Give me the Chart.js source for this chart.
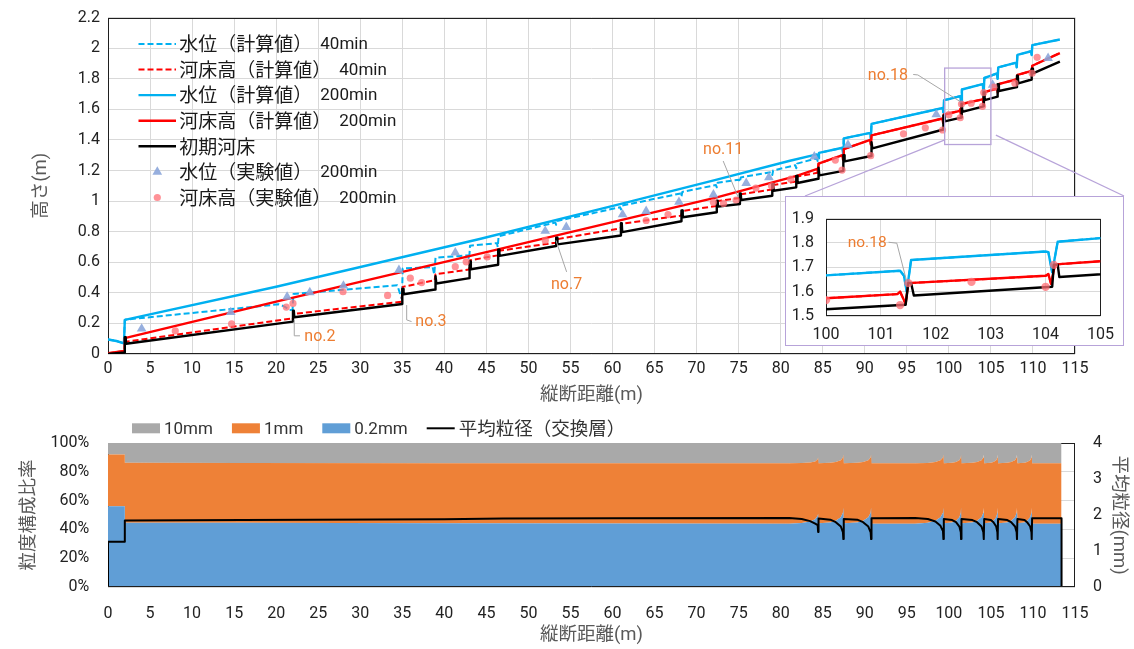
<!DOCTYPE html>
<html lang="ja">
<head>
<meta charset="utf-8">
<title>縦断距離と河床高・粒度構成</title>
<script src="https://cdn.jsdelivr.net/npm/chart.js@4.4.1/dist/chart.umd.min.js"></script>
<style>
  html, body { margin:0; padding:0; background:#fff; }
  #page { position:relative; width:1134px; height:649px; overflow:hidden; }
  canvas { position:absolute; display:block; }
  #profile { left:0; top:0; }
  #grain { left:0; top:410px; }
  #zoomFrame { position:absolute; left:785px; top:196px; width:339px; height:150px; box-sizing:border-box; border:1px solid #b7a3d9; background:#fff; }
  #zoomFrame canvas { left:0; top:0; }
</style>
</head>
<body>
<div id="page">
  <canvas id="profile" width="1134" height="410"></canvas>
  <canvas id="grain" width="1134" height="239"></canvas>
  <div id="zoomFrame"><canvas id="zoom" width="337" height="148"></canvas></div>
</div>
<script>
// ---------------- 縦断形状 [縦断距離(m), 高さ(m)] ----------------
const wl40 = [[0,0.095],[1.0,0.085],[1.9,0.07],[2.0,0.223],[2.1,0.225],[20.3,0.325],[21.0,0.31],[21.6,0.288],[21.95,0.29],[22.05,0.392],
  [34.4,0.45],[34.7,0.40],[34.95,0.36],[35.05,0.559],[38.6,0.569],[38.8,0.52],[38.95,0.63],[42.8,0.645],[42.95,0.62],[43.05,0.708],
  [46.25,0.725],[46.35,0.70],[46.45,0.77],[53.2,0.86],[53.3,0.845],[53.4,0.87],[60.9,0.96],[61.0,0.945],[61.1,0.97],[68.1,1.05],[68.2,1.03],[68.3,1.06],
  [72.3,1.105],[72.4,1.09],[72.5,1.12],[75.05,1.14],[75.15,1.125],[75.25,1.155],[78.9,1.19],[79.0,1.17],[79.1,1.2],[81.75,1.235],[81.85,1.215],[81.95,1.245],
  [84.3,1.28],[84.4,1.26],[84.47,1.28],[84.55,1.315],[87.35,1.349],[87.42,1.31],[87.5,1.41],[90.65,1.446],[90.72,1.41],[90.8,1.505],
  [99.28,1.609],[99.34,1.58],[99.42,1.66],[100.0,1.667],[101.35,1.686],[101.42,1.665],[101.47,1.60],[101.55,1.73],[104.0,1.765],[104.05,1.762],[104.12,1.68],[104.22,1.805],
  [105.0,1.82],[105.72,1.835],[105.8,1.80],[105.87,1.875],[108.0,1.905],[108.07,1.875],[108.15,1.956],[109.78,1.98],[109.85,1.955],[109.92,2.02],[113.2,2.057]];

const bed40 = [[0,0.005],[1.95,0.02],[2.0,0.09],[2.1,0.08],[21.85,0.232],[21.95,0.225],[22.1,0.262],[34.9,0.342],[35.05,0.439],[38.85,0.483],[38.95,0.522],
  [42.95,0.552],[43.05,0.613],[46.35,0.645],[46.5,0.675],[53.25,0.728],[53.35,0.75],[60.95,0.822],[61.1,0.852],[68.15,0.905],[68.3,0.935],
  [72.35,0.968],[72.5,1.0],[75.1,1.02],[75.25,1.045],[78.95,1.075],[79.1,1.105],[81.8,1.128],[81.95,1.16],[84.35,1.185],[84.42,1.19],[84.5,1.245],
  [87.35,1.30],[87.42,1.27],[87.5,1.34],[90.65,1.40],[90.72,1.37],[90.8,1.43],[99.25,1.54],[99.32,1.51],[99.4,1.566],[100.0,1.573],
  [101.3,1.59],[101.35,1.60],[101.45,1.55],[101.5,1.635],[104.0,1.665],[104.05,1.672],[104.1,1.632],[104.17,1.71],[104.25,1.713],[105.0,1.725],
  [105.72,1.735],[105.77,1.74],[105.82,1.71],[105.88,1.765],[108.0,1.795],[108.05,1.80],[108.1,1.775],[108.17,1.825],
  [109.75,1.85],[109.8,1.855],[109.85,1.83],[109.92,1.885],[113.2,1.968]];

const wl200 = [[0,0.095],[1.0,0.085],[1.9,0.07],[2.0,0.223],[20.0,0.44],[44.2,0.752],[61.0,0.982],[72.4,1.14],[81.1,1.264],[84.3,1.305],
  [84.4,1.298],[84.47,1.28],[84.55,1.315],[87.35,1.349],[87.42,1.31],[87.5,1.41],[90.65,1.446],[90.72,1.41],[90.8,1.505],
  [99.28,1.609],[99.34,1.58],[99.42,1.66],[100.0,1.667],[101.35,1.686],[101.42,1.665],[101.47,1.60],[101.55,1.73],[104.0,1.765],[104.05,1.762],[104.12,1.68],[104.22,1.805],
  [105.0,1.82],[105.72,1.835],[105.8,1.80],[105.87,1.875],[108.0,1.905],[108.07,1.875],[108.15,1.956],[109.78,1.98],[109.85,1.955],[109.92,2.02],[113.2,2.057]];

const bed200 = [[0,0.005],[1.95,0.02],[2.0,0.104],[20.0,0.342],[46.5,0.686],[61.0,0.876],[72.4,1.024],[81.9,1.165],[84.35,1.21],[84.42,1.19],[84.5,1.245],
  [87.35,1.30],[87.42,1.27],[87.5,1.34],[90.65,1.40],[90.72,1.37],[90.8,1.43],[99.25,1.54],[99.32,1.51],[99.4,1.566],[100.0,1.573],
  [101.3,1.59],[101.35,1.60],[101.45,1.55],[101.5,1.635],[104.0,1.665],[104.05,1.672],[104.1,1.632],[104.17,1.71],[104.25,1.713],[105.0,1.725],
  [105.72,1.735],[105.77,1.74],[105.82,1.71],[105.88,1.765],[108.0,1.795],[108.05,1.80],[108.1,1.775],[108.17,1.825],
  [109.75,1.85],[109.8,1.855],[109.85,1.83],[109.92,1.885],[113.2,1.968]];

const bedInit = [[0,0],[2.0,0.01],[2.0,0.11],[2.1,0.11],[2.15,0.067],
  [22.0,0.212],[22.0,0.283],[22.1,0.283],[22.15,0.24],
  [35.0,0.327],[35.0,0.425],[35.1,0.425],[35.15,0.391],
  [38.9,0.422],[38.9,0.509],[39.0,0.509],[39.05,0.461],
  [43.0,0.496],[43.0,0.605],[43.1,0.605],[43.15,0.554],
  [46.4,0.584],[46.4,0.682],[46.5,0.682],[46.55,0.642],
  [53.3,0.706],[53.3,0.760],[53.4,0.760],[53.45,0.717],
  [61.0,0.775],[61.0,0.855],[61.1,0.855],[61.15,0.797],
  [68.2,0.868],[68.2,0.938],[68.3,0.938],[68.35,0.894],
  [72.4,0.927],[72.4,1.003],[72.5,1.003],[72.55,0.964],
  [75.15,0.981],[75.15,1.05],[75.25,1.05],[75.3,1.007],
  [79.0,1.035],[79.0,1.111],[79.1,1.111],[79.15,1.068],
  [81.85,1.090],[81.85,1.165],[81.95,1.165],[82.0,1.118],
  [84.45,1.146],[84.45,1.219],[84.55,1.219],[84.6,1.168],
  [87.45,1.198],[87.45,1.30],[87.55,1.30],[87.6,1.26],
  [90.75,1.295],[90.75,1.385],[90.85,1.385],[90.9,1.345],
  [99.35,1.468],[99.35,1.56],[99.45,1.56],[99.5,1.521],
  [101.45,1.546],[101.5,1.636],[101.55,1.636],[101.6,1.584],
  [104.12,1.62],[104.15,1.711],[104.22,1.711],[104.25,1.66],
  [105.8,1.683],[105.8,1.765],[105.9,1.765],[105.95,1.72],
  [108.1,1.745],[108.1,1.82],[108.2,1.82],[108.25,1.77],
  [109.85,1.795],[109.85,1.865],[109.95,1.865],[110.0,1.835],
  [113.2,1.912]];

const wlObs = [[4.0,0.165],[14.6,0.273],[21.3,0.373],[24.0,0.403],[28.0,0.446],[34.6,0.548],[41.3,0.663],[52.0,0.804],[54.5,0.83],
  [61.2,0.912],[64.0,0.934],[67.9,0.994],[72.0,1.042],[75.9,1.117],[78.6,1.155],[84.0,1.291],[88.0,1.367],[98.5,1.566],[105.2,1.76],[111.8,1.935]];

const bedObs = [[8.0,0.151],[14.7,0.197],[21.2,0.307],[22.0,0.331],[27.95,0.407],[33.25,0.383],[35.95,0.496],[37.3,0.467],[41.3,0.571],
  [42.6,0.603],[45.1,0.635],[52.0,0.743],[64.0,0.873],[66.6,0.912],[72.0,0.992],[73.2,0.985],[74.7,1.007],[77.05,1.085],[78.9,1.10],
  [81.2,1.143],[86.5,1.268],[87.3,1.203],[90.7,1.297],[94.6,1.44],[97.2,1.479],[99.25,1.465],[100.0,1.565],[101.35,1.545],[101.5,1.635],
  [102.65,1.64],[104.0,1.62],[104.15,1.71],[105.35,1.745],[107.85,1.771],[109.9,1.836],[110.5,1.94]];

// ---------------- 交換層の粒度構成 (%) ----------------
const gsX    = [0,2.0,2.0,16,40,60,81.0,82.5,83.5,84.1,84.4,84.45,84.5,85.9,86.55,87.15,87.4,87.45,87.5,89.1,89.8,90.42,90.7,90.75,90.8,
  96.0,97.5,98.4,99.0,99.3,99.35,99.4,100.4,100.85,101.25,101.42,101.45,101.5,102.8,103.35,103.88,104.1,104.15,104.2,105.0,105.3,105.63,105.77,105.8,
  105.85,106.95,107.4,107.87,108.06,108.1,108.15,109.0,109.3,109.67,109.82,109.85,109.9,113.4];
const frac02 = [56,56,44.7,44.6,44.3,44.1,44.0,44.5,45.5,47.0,49.5,51.0,44.3,44.8,46.0,48.5,51.5,55,44.3,44.8,46.0,48.5,51.5,55,44.0,
  44.0,44.6,46.0,48.5,51.5,55,44.3,44.8,46.0,48.5,51.5,55,44.3,44.8,46.0,48.5,51.5,55,44.3,44.8,46.0,48.5,51.5,55,
  44.3,44.8,46.0,48.5,51.5,55,44.3,44.8,46.0,48.5,51.5,55,44.0,44.0];
const frac1  = [36,36,41.5,41.5,41.7,41.8,41.9,41.6,41.0,40.2,39.3,39.0,41.7,41.4,40.8,39.5,38.5,37,41.7,41.4,40.8,39.5,38.5,37,41.9,
  41.9,41.5,40.8,39.5,38.5,37,41.7,41.4,40.8,39.5,38.5,37,41.7,41.4,40.8,39.5,38.5,37,41.7,41.4,40.8,39.5,38.5,37,
  41.7,41.4,40.8,39.5,38.5,37,41.7,41.4,40.8,39.5,38.5,37,41.9,41.9];
const frac10 = [8,8,13.8,13.9,14.0,14.1,14.1,13.9,13.5,12.8,11.2,10.0,14.0,13.8,13.2,12.0,10.0,8,14.0,13.8,13.2,12.0,10.0,8,14.1,
  14.1,13.9,13.2,12.0,10.0,8,14.0,13.8,13.2,12.0,10.0,8,14.0,13.8,13.2,12.0,10.0,8,14.0,13.8,13.2,12.0,10.0,8,
  14.0,13.8,13.2,12.0,10.0,8,14.0,13.8,13.2,12.0,10.0,8,14.1,14.1];

// 平均粒径 [縦断距離(m), mm]
const meanDia = [[0,0],[0,1.26],[2.0,1.26],[2.0,1.85],[16,1.86],[24,1.87],[40,1.88],[47,1.9],[60,1.91],[81.0,1.92],[82.5,1.89],[83.5,1.83],
  [84.1,1.76],[84.4,1.72],[84.45,1.53],[84.5,1.90],[85.9,1.87],[86.55,1.80],[87.15,1.68],[87.4,1.52],[87.45,1.33],[87.5,1.89],
  [89.1,1.87],[89.8,1.80],[90.42,1.68],[90.7,1.52],[90.75,1.33],[90.8,1.91],[96.0,1.915],[97.5,1.89],[98.4,1.82],[99.0,1.70],[99.3,1.55],[99.35,1.33],
  [99.4,1.89],[100.4,1.86],[100.85,1.80],[101.25,1.68],[101.42,1.52],[101.45,1.33],[101.5,1.89],[102.8,1.86],[103.35,1.80],[103.88,1.68],[104.1,1.52],[104.15,1.33],
  [104.2,1.89],[105.0,1.86],[105.3,1.80],[105.63,1.68],[105.77,1.52],[105.8,1.33],[105.85,1.89],[106.95,1.86],[107.4,1.80],[107.87,1.68],[108.06,1.52],[108.1,1.33],
  [108.15,1.89],[109.0,1.86],[109.3,1.80],[109.67,1.68],[109.82,1.52],[109.85,1.33],[109.9,1.91],[113.4,1.91],[113.4,0]];

// 注記（文字位置と引出線、データ座標）
const profileNotes = [
  {text:'no.2',  at:[25.2,0.114],  path:[[22.15,0.223],[22.15,0.119],[22.83,0.119]]},
  {text:'no.3',  at:[38.4,0.212],  path:[[35.52,0.32],[35.52,0.223],[36.1,0.212]]},
  {text:'no.7',  at:[54.54,0.45],  path:[[53.27,0.743],[54.54,0.537]]},
  {text:'no.11', at:[73.16,1.334], path:[[74.95,1.024],[73.16,1.262]]},
  {text:'no.18', at:[92.75,1.815], path:[[101.31,1.652],[96.31,1.825],[95.76,1.828]]}
];
const zoomNotes = [
  {text:'no.18', at:[100.75,1.799], path:[[101.47,1.642],[101.29,1.799],[101.14,1.803]]}
];
// 拡大範囲の枠と引出線の起点
const zoomBox = {x0:99.5, x1:105.0, y0:1.37, y1:1.87};
const zoomLinkFrom = [[99.52,1.40],[105.59,1.431]];

// ---------------- 描画 ----------------
const JP  = "'Noto Sans CJK JP'";
const MIX = "Roboto, 'Noto Sans CJK JP'";
Chart.defaults.font.family = 'Roboto';
Chart.defaults.color = '#222';

const OBS_WL  = 'rgba(140,166,218,0.9)';
const OBS_BED = 'rgba(255,110,116,0.75)';
const C02 = '#609ed6', C1 = '#ee8137', C10 = '#a9a9a9';

function lineSet(label, data, color, w, dash) {
  return { label, data, borderColor: color, backgroundColor: color, borderWidth: w, borderDash: dash || [],
           pointRadius: 0, tension: 0, fill: false, borderJoinStyle: 'round', borderCapStyle: 'butt' };
}
function profileDatasets(k) {
  return [
    { label:'河床高（実験値） 200min', data: bedObs, showLine:false, pointStyle:'circle', pointRadius:3.6*k,
      pointBackgroundColor: OBS_BED, pointBorderWidth:0, borderColor: OBS_BED, backgroundColor: OBS_BED },
    { label:'水位（実験値） 200min', data: wlObs, showLine:false, pointStyle:'triangle', pointRadius:5.6*k,
      pointBackgroundColor: OBS_WL, pointBorderWidth:0, borderColor: OBS_WL, backgroundColor: OBS_WL },
    lineSet('初期河床', bedInit, '#000000', 2.4),
    lineSet('河床高（計算値） 200min', bed200, '#ff0000', 2.4),
    lineSet('水位（計算値） 200min', wl200, '#00b0f0', 2.4),
    lineSet('河床高（計算値） 40min', bed40, '#ff0000', 2.0, [6,3]),
    lineSet('水位（計算値） 40min', wl40, '#00b0f0', 2.0, [6,3])
  ];
}

function drawMarker(ctx, ds, x, y) {
  ctx.fillStyle = ds.pointBackgroundColor;
  ctx.beginPath();
  if (ds.pointStyle === 'triangle') {
    const r = ds.pointRadius;
    for (let i = 0; i < 3; i++) {
      const a = i * 2 * Math.PI / 3;
      const px = x + Math.sin(a) * r, py = y - Math.cos(a) * r;
      i ? ctx.lineTo(px, py) : ctx.moveTo(px, py);
    }
    ctx.closePath();
  } else {
    ctx.arc(x, y, ds.pointRadius, 0, Math.PI * 2);
  }
  ctx.fill();
}

const plotFrame = (color) => ({
  id: 'plotFrame',
  beforeDatasetsDraw(chart) {
    const {ctx, chartArea: a} = chart;
    ctx.save();
    ctx.strokeStyle = color; ctx.lineWidth = 1;
    ctx.strokeRect(Math.round(a.left) + 0.5, Math.round(a.top) + 0.5, Math.round(a.width) - 1, Math.round(a.height) - 1);
    ctx.restore();
  }
});

const notesPlugin = (list, size) => ({
  id: 'notes',
  afterDatasetsDraw(chart) {
    const {ctx, scales: {x, y}} = chart;
    ctx.save();
    list.forEach(n => {
      ctx.strokeStyle = '#a6a6a6'; ctx.lineWidth = 1;
      ctx.beginPath();
      n.path.forEach((p, i) => {
        const px = x.getPixelForValue(p[0]), py = y.getPixelForValue(p[1]);
        i ? ctx.lineTo(px, py) : ctx.moveTo(px, py);
      });
      ctx.stroke();
      ctx.fillStyle = '#ed7d31';
      ctx.font = size + 'px Roboto';
      ctx.textAlign = 'center'; ctx.textBaseline = 'middle';
      ctx.fillText(n.text, x.getPixelForValue(n.at[0]), y.getPixelForValue(n.at[1]));
    });
    ctx.restore();
  }
});

const zoomLinks = {
  id: 'zoomLinks',
  afterDatasetsDraw(chart) {
    const {ctx, scales: {x, y}} = chart;
    const f = document.getElementById('zoomFrame');
    const fl = f.offsetLeft, ft = f.offsetTop, fw = f.offsetWidth;
    ctx.save();
    ctx.strokeStyle = '#b7a3d9'; ctx.lineWidth = 1.3;
    const l = x.getPixelForValue(zoomBox.x0), r = x.getPixelForValue(zoomBox.x1);
    const t = y.getPixelForValue(zoomBox.y1), b = y.getPixelForValue(zoomBox.y0);
    ctx.strokeRect(l, t, r - l, b - t);
    const ends = [[fl + 20, ft], [fl + fw, ft]];
    zoomLinkFrom.forEach((p, i) => {
      ctx.beginPath();
      ctx.moveTo(x.getPixelForValue(p[0]), y.getPixelForValue(p[1]));
      ctx.lineTo(ends[i][0], ends[i][1]);
      ctx.stroke();
    });
    ctx.restore();
  }
};

const profileLegend = {
  id: 'profileLegend',
  afterDatasetsDraw(chart) {
    const {ctx, chartArea: a} = chart;
    const rows = chart.data.datasets.slice().reverse();
    ctx.save();
    rows.forEach((ds, i) => {
      const y = a.top + 26.3 + i * 25.6;
      const x0 = a.left + 30.5, x1 = a.left + 68, xm = a.left + 49.3;
      if (ds.showLine === false) {
        drawMarker(ctx, ds, xm, y);
      } else {
        ctx.strokeStyle = ds.borderColor; ctx.lineWidth = ds.borderWidth;
        ctx.setLineDash(ds.borderDash); ctx.beginPath();
        ctx.moveTo(x0, y); ctx.lineTo(x1, y); ctx.stroke();
        ctx.setLineDash([]);
      }
      const parts = ds.label.split(' ');
      const tx = a.left + 71.3;
      ctx.fillStyle = '#1a1a1a'; ctx.textAlign = 'left'; ctx.textBaseline = 'middle';
      ctx.font = '19px ' + JP;
      ctx.fillText(parts[0], tx, y);
      if (parts[1]) {
        const w = ctx.measureText(parts[0]).width;
        ctx.font = '17px Roboto';
        ctx.fillText(parts[1], tx + w + 8, y + 1);
      }
    });
    ctx.restore();
  }
};

// 縦断図
new Chart(document.getElementById('profile'), {
  type: 'line',
  data: { datasets: profileDatasets(1) },
  options: {
    responsive: false, animation: false, events: [],
    layout: { padding: { top: 16, right: 59, bottom: 0, left: 0 } },
    plugins: { legend: { display: false }, tooltip: { enabled: false } },
    scales: {
      x: { type: 'linear', min: 0, max: 115,
           ticks: { stepSize: 5, padding: 5, autoSkip: false, maxRotation: 0, font: { size: 16 } },
           grid: { color: '#d9d9d9', drawTicks: false }, border: { display: false },
           title: { display: true, text: '縦断距離(m)', color: '#595959', font: { family: MIX, size: 18.5 }, padding: { top: 0, bottom: 3.9 } },
           afterFit: s => { s.height = 56; } },
      y: { type: 'linear', min: 0, max: 2.2,
           ticks: { stepSize: 0.2, padding: 8, font: { size: 16 }, format: { minimumFractionDigits: 0, maximumFractionDigits: 1 } },
           grid: { color: '#d9d9d9', drawTicks: false }, border: { display: false },
           title: { display: true, text: '高さ(m)', color: '#595959', font: { family: MIX, size: 18.5 }, padding: { top: 30, bottom: 0 } },
           afterFit: s => { s.width = 108; } }
    }
  },
  plugins: [plotFrame('#1f1f1f'), zoomLinks, notesPlugin(profileNotes, 16), profileLegend]
});

// 拡大図 (100〜105 m)
new Chart(document.getElementById('zoom'), {
  type: 'line',
  data: { datasets: profileDatasets(1.15) },
  options: {
    responsive: false, animation: false, events: [],
    layout: { padding: { top: 8, right: 16, bottom: 0, left: 0 } },
    plugins: { legend: { display: false }, tooltip: { enabled: false } },
    scales: {
      x: { type: 'linear', min: 100, max: 105,
           ticks: { stepSize: 1, padding: 9, autoSkip: false, maxRotation: 0, font: { size: 16 } },
           grid: { color: '#d9d9d9', drawTicks: false }, border: { display: false },
           afterFit: s => { s.height = 29; } },
      y: { type: 'linear', min: 1.5, max: 1.9,
           ticks: { stepSize: 0.1, padding: 12, font: { size: 16 }, format: { minimumFractionDigits: 1, maximumFractionDigits: 1 } },
           grid: { color: '#d9d9d9', drawTicks: false }, border: { display: false },
           afterFit: s => { s.width = 40; } }
    }
  },
  plugins: [plotFrame('#1f1f1f'), notesPlugin(zoomNotes, 15.5)]
});

// 粒度構成（累積）
const top02 = gsX.map((x, i) => [x, frac02[i]]);
const top1  = gsX.map((x, i) => [x, frac02[i] + frac1[i]]);
const top10 = gsX.map((x, i) => [x, frac02[i] + frac1[i] + frac10[i]]);

const grainLegend = {
  id: 'grainLegend',
  afterDraw(chart) {
    const {ctx} = chart;
    const ds = chart.data.datasets;
    const items = [ds[2], ds[1], ds[0], ds[3]];
    const y = 18.3;
    let x = 132;
    ctx.save();
    ctx.textAlign = 'left'; ctx.textBaseline = 'middle';
    items.forEach(it => {
      if (it.fill) {
        ctx.fillStyle = it.backgroundColor; ctx.fillRect(x, y - 5, 28, 10);
      } else {
        ctx.strokeStyle = it.borderColor; ctx.lineWidth = 2;
        ctx.beginPath(); ctx.moveTo(x, y); ctx.lineTo(x + 28, y); ctx.stroke();
      }
      x += 32;
      const jp = /[^\x00-\x7f]/.test(it.label);
      ctx.font = jp ? '18.5px ' + JP : '17px Roboto';
      ctx.fillStyle = '#333';
      ctx.fillText(it.label, x, jp ? y : y + 1);
      x += ctx.measureText(it.label).width + 19;
    });
    ctx.restore();
  }
};
const grainAxisLine = {
  id: 'grainAxisLine',
  afterDatasetsDraw(chart) {
    const {ctx, chartArea: a} = chart;
    ctx.save();
    ctx.strokeStyle = '#1f1f1f'; ctx.lineWidth = 1;
    ctx.beginPath();
    ctx.moveTo(a.left, Math.round(a.bottom) - 0.5); ctx.lineTo(a.right, Math.round(a.bottom) - 0.5);
    ctx.moveTo(Math.round(a.right) - 0.5, a.top); ctx.lineTo(Math.round(a.right) - 0.5, a.bottom);
    ctx.stroke();
    ctx.restore();
  }
};

new Chart(document.getElementById('grain'), {
  type: 'line',
  data: { datasets: [
    { label: '0.2mm', data: top02, fill: 'origin', backgroundColor: C02, borderColor: 'rgba(0,0,0,0)', borderWidth: 0, pointRadius: 0, tension: 0, yAxisID: 'y' },
    { label: '1mm',   data: top1,  fill: '-1',     backgroundColor: C1,  borderColor: 'rgba(0,0,0,0)', borderWidth: 0, pointRadius: 0, tension: 0, yAxisID: 'y' },
    { label: '10mm',  data: top10, fill: '-1',     backgroundColor: C10, borderColor: 'rgba(0,0,0,0)', borderWidth: 0, pointRadius: 0, tension: 0, yAxisID: 'y' },
    { label: '平均粒径（交換層）', data: meanDia, fill: false, borderColor: '#000', backgroundColor: '#000', borderWidth: 2,
      pointRadius: 0, tension: 0, yAxisID: 'y2', order: -1, borderJoinStyle: 'round' }
  ] },
  options: {
    responsive: false, animation: false, events: [],
    layout: { padding: { top: 33, right: 0, bottom: 0, left: 0 } },
    plugins: { legend: { display: false }, tooltip: { enabled: false } },
    scales: {
      x: { type: 'linear', min: 0, max: 115,
           ticks: { stepSize: 5, padding: 17.7, autoSkip: false, maxRotation: 0, font: { size: 16 } },
           grid: { display: false, drawTicks: false }, border: { display: false },
           title: { display: true, text: '縦断距離(m)', color: '#595959', font: { family: MIX, size: 18.5 }, padding: { top: 0, bottom: 2.9 } },
           afterFit: s => { s.height = 62; } },
      y: { type: 'linear', min: 0, max: 100,
           ticks: { stepSize: 20, padding: 18.7, font: { size: 16 }, callback: v => v + '%' },
           grid: { color: '#d9d9d9', drawTicks: false }, border: { display: false },
           title: { display: true, text: '粒度構成比率', color: '#595959', font: { family: MIX, size: 18.5 }, padding: { top: 18, bottom: 0 } },
           afterFit: s => { s.width = 108; } },
      y2: { type: 'linear', position: 'right', min: 0, max: 4,
           ticks: { stepSize: 1, padding: 18, font: { size: 16 } },
           grid: { display: false, drawTicks: false }, border: { display: false },
           title: { display: true, text: '平均粒径(mm)', color: '#595959', font: { family: MIX, size: 18.5 }, padding: { top: 4.5, bottom: 0 } },
           afterFit: s => { s.width = 59; } }
    }
  },
  plugins: [plotFrame('#1f1f1f'), grainAxisLine, grainLegend]
});
</script>
</body>
</html>
